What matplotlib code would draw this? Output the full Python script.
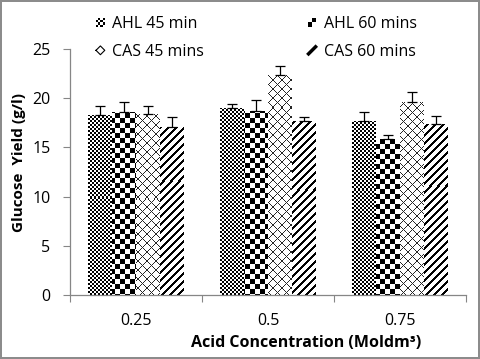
import numpy as np
import matplotlib
matplotlib.use("Agg")
import matplotlib.pyplot as plt
from matplotlib.patches import Rectangle
from matplotlib.lines import Line2D
from matplotlib.legend_handler import HandlerBase

plt.rcParams['font.family'] = ['Open Sans', 'DejaVu Sans']

categories = ["0.25", "0.5", "0.75"]
series_names = ["AHL 45 min", "AHL 60 mins", "CAS 45 mins", "CAS 60 mins"]
ahl45 = [18.3, 19.0, 17.7]
ahl60 = [18.6, 18.7, 15.85]
cas45 = [18.4, 22.4, 19.6]
cas60 = [17.1, 17.7, 17.4]
ahl45_err = [0.9, 0.4, 0.9]
ahl60_err = [1.0, 1.1, 0.45]
cas45_err = [0.8, 0.9, 1.0]
cas60_err = [1.0, 0.35, 0.8]
yticks = [0, 5, 10, 15, 20, 25]

values = [ahl45, ahl60, cas45, cas60]
errors = [ahl45_err, ahl60_err, cas45_err, cas60_err]
pattern_keys = ["fine", "big", "diamond", "stripe"]

W, H = 480, 359
fig = plt.figure(figsize=(W / 100, H / 100), dpi=100)
fig.patch.set_edgecolor('#8c8c8c')
fig.patch.set_linewidth(1.5)

ax_l, ax_r, ax_b, ax_t = 70, 466, 295, 49
ax = fig.add_axes([ax_l / W, 1 - ax_b / H, (ax_r - ax_l) / W, (ax_b - ax_t) / H])

xmin, xmax, ymin, ymax = -0.5, 2.5, 0, 25
pw, ph = ax_r - ax_l, ax_b - ax_t
ii, jj = np.mgrid[0:ph, 0:pw]


def make_pattern(key):
    if key == "fine":
        return (((ii // 2) + (jj // 2)) % 2).astype(float)
    if key == "big":
        return (((ii // 5) + (jj // 5)) % 2).astype(float)
    if key == "diamond":
        return np.where(((ii + jj) % 9 == 0) | ((ii - jj) % 9 == 0), 0.15, 1.0)
    if key == "stripe":
        return np.where((ii + jj) % 8 < 3, 0.0, 1.0)


x = np.arange(len(categories))
n = len(values)
bw = 0.18
for k in range(n):
    pos = x + (k - (n - 1) / 2) * bw
    bars = ax.bar(pos, values[k], width=bw, facecolor='none', edgecolor='none', zorder=2)
    img = make_pattern(pattern_keys[k])
    for b in bars:
        im = ax.imshow(img, cmap='gray', vmin=0, vmax=1, interpolation='nearest',
                       extent=(xmin, xmax, ymin, ymax), aspect='auto', origin='upper', zorder=2)
        im.set_clip_path(b)
    ax.errorbar(pos, values[k], yerr=[np.zeros(len(categories)), errors[k]], fmt='none',
                ecolor='black', elinewidth=0.9, capsize=3.5, capthick=0.9, zorder=3)

ax.set_xlim(xmin, xmax)
ax.set_ylim(ymin, ymax)

for s in ['top', 'right']:
    ax.spines[s].set_visible(False)
for s in ['left', 'bottom']:
    ax.spines[s].set_color('#868686')
    ax.spines[s].set_linewidth(0.9)

fs = 11.5
ax.set_yticks(yticks)
ax.set_yticklabels([str(v) for v in yticks])
ax.tick_params(axis='y', length=5, color='#868686', pad=9, labelsize=fs)
ax.set_xticks(np.arange(len(categories) + 1) - 0.5)
ax.set_xticklabels([])
ax.tick_params(axis='x', which='major', length=5, color='#868686')
ax.set_xticks(x, minor=True)
ax.set_xticklabels(categories, minor=True)
ax.tick_params(axis='x', which='minor', length=0, pad=13, labelsize=fs)

ax.set_xlabel("Acid Concentration (Moldm³)", fontweight='bold', fontsize=fs)
ax.xaxis.set_label_coords(0.596, -0.162)
ax.set_ylabel("Glucose  Yield (g/l)", fontweight='bold', fontsize=11)
ax.yaxis.set_label_coords(-0.11, 0.537)


class PatternHandler(HandlerBase):
    def create_artists(self, legend, orig_handle, xdescent, ydescent, width, height, fontsize, trans):
        key = orig_handle
        s = min(width, height)
        x0 = -xdescent + (width - s) / 2
        y0 = -ydescent + (height - s) / 2
        arts = [Rectangle((x0, y0), s, s, facecolor='white', edgecolor='none', transform=trans)]
        if key in ("fine", "big"):
            m = 4 if key == "fine" else 2
            c = s / m
            for a in range(m):
                for b in range(m):
                    if (a + b) % 2 == 0:
                        arts.append(Rectangle((x0 + a * c, y0 + b * c), c, c, facecolor='black',
                                              edgecolor='none', transform=trans))
        elif key == "diamond":
            cx, cy = x0 + s / 2, y0 + s / 2
            arts.append(Line2D([x0, cx, x0 + s, cx, x0], [cy, y0 + s, cy, y0, cy], color='black',
                               lw=0.8, transform=trans))
        elif key == "stripe":
            arts.append(Line2D([x0 + s * 0.1, x0 + s * 0.9], [y0 + s * 0.1, y0 + s * 0.9],
                               color='black', lw=2.5, transform=trans))
        return arts


order = [0, 2, 1, 3]
handles = [pattern_keys[i] for i in order]
labels = [series_names[i] for i in order]
fig.legend(handles, labels, handler_map={str: PatternHandler()}, ncol=2, frameon=False,
           loc='upper left', bbox_to_anchor=(96 / W, 1 - 16 / H), fontsize=fs,
           handlelength=0.55, handleheight=0.55, handletextpad=0.45, columnspacing=6.5,
           labelspacing=0.75, borderpad=0, borderaxespad=0)

fig.savefig("out.png", dpi=100)
